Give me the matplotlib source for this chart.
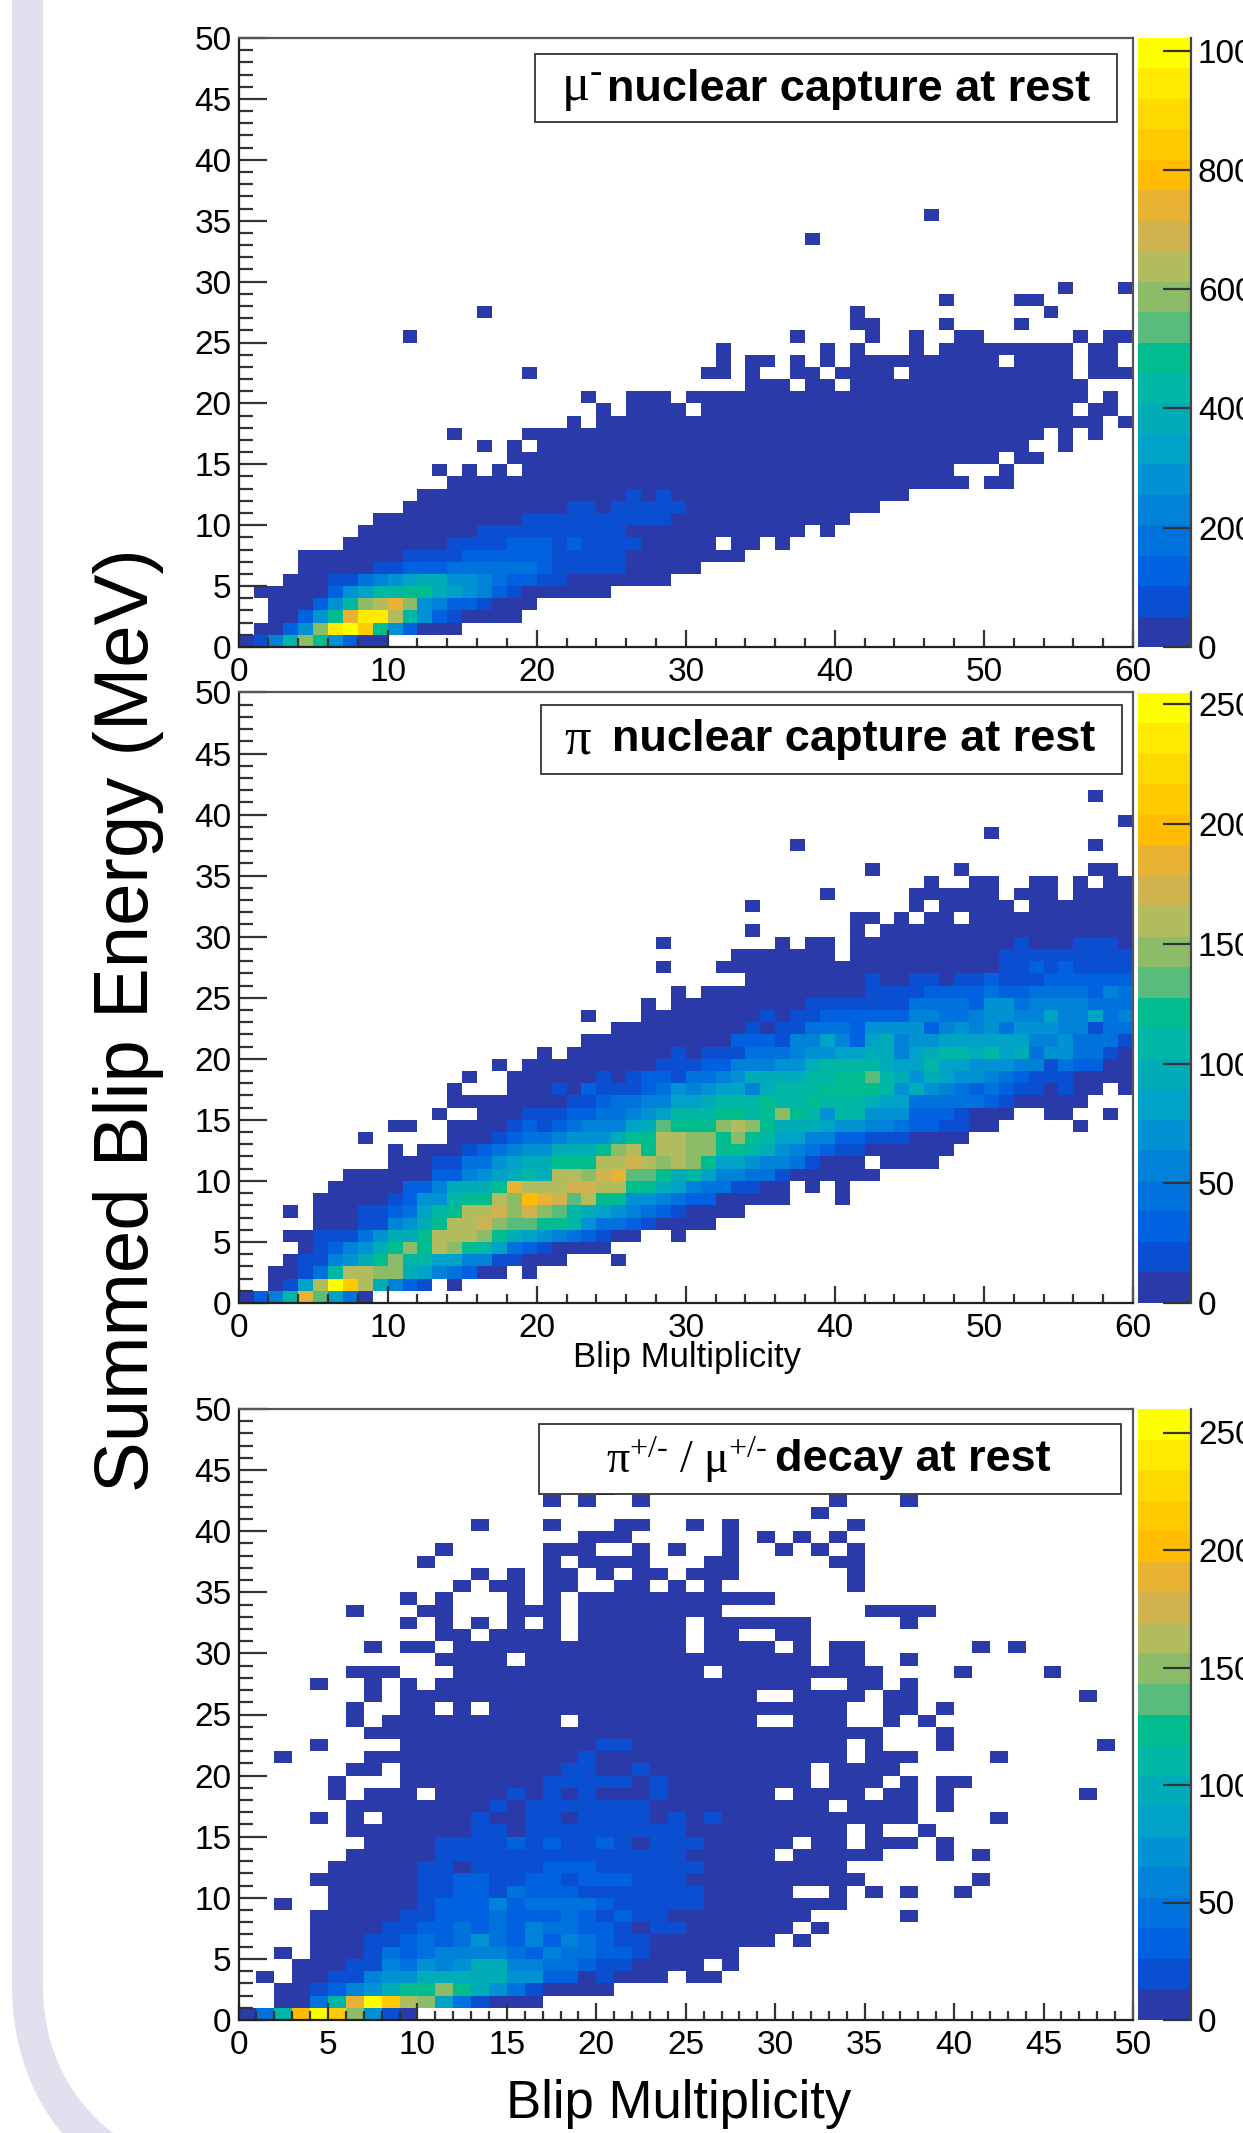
# -*- coding: utf-8 -*-
import numpy as np
import matplotlib
matplotlib.use("Agg")
import matplotlib.pyplot as plt
from matplotlib.colors import ListedColormap, BoundaryNorm
from matplotlib.patches import PathPatch, Rectangle
from matplotlib.path import Path
from matplotlib.ticker import MultipleLocator

plt.rcParams['font.family'] = ['Liberation Sans', 'DejaVu Sans']
plt.rcParams['mathtext.fontset'] = 'custom'
plt.rcParams['mathtext.rm'] = 'Liberation Serif'
plt.rcParams['mathtext.it'] = 'Liberation Serif:italic'
plt.rcParams['mathtext.bf'] = 'Liberation Serif:bold'

W, H = 1243, 2133

# palette levels, bottom to top of the colour bar
level_colors = ['#2a3aa8', '#0a4fd2', '#0062e0', '#0072de', '#0082d8',
                '#0092d2', '#00a2c8', '#00acb8', '#00b6a4', '#00bc8e',
                '#5abc7c', '#8cbc68', '#b2bc5e', '#d0b24e', '#e8b232',
                '#ffbc00', '#ffca00', '#ffda00', '#ffea00', '#ffff00']

# one string per energy bin (row 0 = 0-1 MeV), one level per multiplicity bin:
# "a-b" bins a..b at level 0, "a-b=L" at level L, "a:seq" levels from bin a on
mu_rows = [
    "0:0148B95200",
    "1-14 3:25BIJG952",
    "2-18 4:259EIIC8521",
    "2-19 5:258BCEB54221",
    "1-24 6:2568899765421",
    "3-28 6:1134567755432211",
    "4-30 9:11222333333211111",
    "4-33 11-14=1 15-20=2 21-25=1",
    "7-31 33-34 36 14-17=1 18-20=2 21=1 22=2 23-26=1",
    "8-37 39 16-25=1",
    "9-40 19-28=1",
    "11-42 22-23=1 25-29=1",
    "12-44 26=1 28=1",
    "14-48 50-51",
    "13 15 17 19-47 51",
    "18-50 52-53",
    "16 18 20-52 55",
    "14 19-53 55 57",
    "22 24-57 59",
    "24 26-29 31-55 57-58",
    "23 26-28 30-56 58",
    "34-36 38-39 41-56",
    "19 31-32 34 37-38 40-43 45-55 57-59",
    "32 34-35 37 39 41-50 52-55 57-58",
    "32 39 41 45 47-55 57-58",
    "11 37 42 45 48-49 56 58-59",
    "41-42 47 52",
    "16 41 54",
    "47 52-53",
    "55 59",
    "", "", "",
    "38",
    "",
    "46",
]

pi_rows = [
    "0:0248EA630",
    "2-12 14 3:16CJGC7421",
    "2-17 19 4:138CCBB76432",
    "3-21 25 4:114579B88664411",
    "4-24 5:124579B9CB986321",
    "3-26 29 5:11135779CCCB97654321",
    "5-31 8:114579CCDBAA99853321",
    "3 5-33 8:1123689CCDBDBA87654321",
    "5-36 40 10:1255899CBFEDAC99554322",
    "6-36 38 40 11:2247779ECCCDDCC997643311",
    "7-42 13:22456787CCBDEAA978644331",
    "10-41 43-46 13:11335677999CCDCBCB96654431",
    "10 12-47 15:123455777" "9BC9CCBB" "9987543211",
    "8 14-48 17:1233455579" "9CCBB9B986" "64422111",
    "10-11 14-50 56 18:12123444" "67A999BCB9777" "6554432211",
    "13 16-51 54-55 58 19:1112233456888998" "9B985885552221",
    "14-56 22:1123344667888" "98898887663333321",
    "14 18-57 59 21:10211123" "54566478" "88999985" "75432321" "1010",
    "15 18-59 24:10122133" "45777788" "99A87576" "55432111",
    "17 19-59 28:11122444" "55788887" "66866555" "441322",
    "20 22-59 29:10111333" "45566774" "67887867" "355331",
    "23-59 33:22214464" "26745566" "66664453" "331",
    "25-59 34:10113332" "55552454" "53555441" "33",
    "23 27-59 35:10112222" "22443345" "54464463" "4",
    "27 29-59 38:1111111" "3333" "255" "3" "4444" "333",
    "29 31-59 42:11112222" "322" "3333" "243",
    "34-59 42:100110112111222222",
    "28 32-59 51:112121111",
    "33-39 41-59 51-59=1",
    "28 36 38-39 41-59 52=1 56-58=1",
    "34 41 43-59",
    "41-42 44 46-47 49-59",
    "34 45 47-51 53-59",
    "39 45-50 52-54 56-59",
    "46 49-50 53-54 56 58-59",
    "42 48 57-58",
    "",
    "37 57",
    "50",
    "59",
    "",
    "57",
]

decay_rows = [
    "0:038FJGB510",
    "2-16 4:38EJGCB631",
    "2-20 4:1245799B97531",
    "1 3-23 25-26 5:1145577777552201",
    "3-25 27 6:1143545774433211",
    "2 4-27 7:1323444432433221",
    "4-29 31 7:1123235324243211",
    "4-30 32 8:11223232433221011",
    "4-31 37 9:112223222321211",
    "2 5-33 10:1222423333211111",
    "5-30 33 35 37 40 10:1122132221111111",
    "4-34 41 10:112211221222111",
    "5-33 10:1101111222111111",
    "6-29 31-35 39 41 11-24=1",
    "7-30 32-33 35-37 39 11-14=1 15=2 16=1 17=2 18-19=1 20=2 21=1 23-25=1",
    "6-33 35 38 13-14=1 16-24=1",
    "4 6 8-37 42 13=1 16-17=1 19-22=1 24=1 26=1",
    "6-32 34-37 39 14=1 16-22=1",
    "5 7-9 11-29 31-34 36-37 39 47 15=1 17=1 19=1 23=1",
    "5 9-31 33-35 37 39-40 17-21=1 23=1",
    "6-7 9-31 33-36 18-19=1 22=1",
    "2 7-33 35-37 42 19=1",
    "4 9-33 35 39 48 20-21=1",
    "7-35 39",
    "6 8-17 19-28 31-33 36 38",
    "6 9-10 12 14-33 36-37 39",
    "7 9-28 31-34 36-37 47",
    "4 7 9 11-31 34-35 37",
    "6-8 12-25 27-35 40 45",
    "11-14 16-31 33-34 37",
    "7 9-10 12-24 26-29 31 33-34 41 43",
    "11-12 14-17 19-24 26-27 30-31",
    "9 11 13 15 17 19-24 26-31 37",
    "6 10-11 15-17 19-26 35-38",
    "9 11 15 17 19-29",
    "12 14-15 17-18 21-22 24 26 34",
    "13 15 17-18 20 22-23 25-27 34",
    "10 17 19-22 26-27 33-34",
    "11 17-19 22 24 27 30 32 34",
    "19-21 27 29 31 33",
    "13 17 21-22 25 27 34",
    "32",
    "17 19 22 33 37",
    "20",
]

x_max = [60, 60, 50]
y_max = 50
z_max = [1021, 255, 260]
z_ticks = [[0, 200, 400, 600, 800, 1000],
           [0, 50, 100, 150, 200, 250],
           [0, 50, 100, 150, 200, 250]]
x_major = [10, 10, 5]
x_minor = [2, 2, 1]

# panel edges in pixels: top, bottom
panel_top = [38, 692.5, 1409]
panel_bot = [647, 1303, 2020]
ax_left, ax_right = 238.6, 1133
cb_left, cb_right = 1138, 1191

box_edges = [(535, 54, 1117, 122), (541, 704.5, 1122, 774), (539, 1424, 1121.5, 1493.5)]
box_serif = [r"$\mathrm{\mu}^{\mathrm{‐}}$", r"$\mathrm{\pi}$",
             r"$\mathrm{\pi}^{\mathrm{+/‐}}\ /\ \mathrm{\mu}^{\mathrm{+/‐}}$"]
box_serif_x = [561, 564, 606]
box_serif_fs = [38, 38, 33]
box_bold = ["nuclear capture at rest", "nuclear capture at rest", "decay at rest"]
box_bold_x = [607, 612.5, 775.5]
box_text_y = [89, 740, 1460]

LEVELS = "0123456789ABCDEFGHIJ"


def decode(rows, nx, zmax):
    z = np.full((y_max, nx), np.nan)
    for k, row in enumerate(rows):
        for tok in row.split():
            if ":" in tok:
                a, seq = tok.split(":")
                for n, ch in enumerate(seq):
                    z[k, int(a) + n] = (LEVELS.index(ch) + 0.5) * zmax / 20
            else:
                lev = 0
                if "=" in tok:
                    tok, lev = tok.split("=")
                    lev = int(lev)
                a, _, b = tok.partition("-")
                b = b or a
                z[k, int(a):int(b) + 1] = (lev + 0.5) * zmax / 20
    return z


def px_axes(fig, left, top, right, bot):
    return fig.add_axes([left / W, 1 - bot / H, (right - left) / W, (bot - top) / H])


fig = plt.figure(figsize=(W / 100, H / 100), dpi=100, facecolor='white')

# lavender band behind everything
bg = fig.add_axes([0, 0, 1, 1], zorder=-1)
bg.set_xlim(0, W)
bg.set_ylim(H, 0)
bg.axis('off')
band = Path([(12, 0), (12, 1985), (12, 2050), (34, 2100), (62, 2133),
             (113, 2133), (70, 2100), (43, 2050), (43, 1985), (43, 0), (12, 0)],
            [Path.MOVETO, Path.LINETO, Path.CURVE4, Path.CURVE4, Path.CURVE4,
             Path.LINETO, Path.CURVE4, Path.CURVE4, Path.CURVE4, Path.LINETO, Path.CLOSEPOLY])
bg.add_patch(PathPatch(band, facecolor='#e3dfee', edgecolor='none'))

cmap = ListedColormap(level_colors)
cmap.set_bad('white')
tick_fs = 24

for rows, nx, zmax, zt, xmaj, xmin, top, bot in zip(
        [mu_rows, pi_rows, decay_rows], x_max, z_max, z_ticks, x_major, x_minor, panel_top, panel_bot):
    ax = px_axes(fig, ax_left, top, ax_right, bot)
    z = decode(rows, nx, zmax)
    norm = BoundaryNorm(np.linspace(0, zmax, 21), 20)
    mesh = ax.pcolormesh(np.arange(nx + 1), np.arange(y_max + 1), np.ma.masked_invalid(z),
                         cmap=cmap, norm=norm, antialiased=False, linewidth=0)
    ax.set_xlim(0, nx)
    ax.set_ylim(0, y_max)
    ax.xaxis.set_major_locator(MultipleLocator(xmaj))
    ax.xaxis.set_minor_locator(MultipleLocator(xmin))
    ax.yaxis.set_major_locator(MultipleLocator(5))
    ax.yaxis.set_minor_locator(MultipleLocator(1))
    ax.tick_params(axis='x', which='major', direction='in', length=12.5, width=1.6, color='#333333',
                   labelsize=tick_fs, pad=7)
    ax.tick_params(axis='x', which='minor', direction='in', length=6.2, width=1.6, color='#333333')
    ax.tick_params(axis='y', which='major', direction='in', length=20, width=1.6, color='#333333',
                   labelsize=tick_fs, pad=5)
    ax.tick_params(axis='y', which='minor', direction='in', length=10, width=1.6, color='#333333')
    for side, col in [('left', '#222222'), ('bottom', '#222222'), ('top', '#555555'), ('right', '#555555')]:
        ax.spines[side].set_color(col)
        ax.spines[side].set_linewidth(1.6)

    cax = px_axes(fig, cb_left, top, cb_right, bot)
    cb = fig.colorbar(mesh, cax=cax, ticks=zt, spacing='proportional')
    cb.minorticks_off()
    cb.ax.tick_params(direction='in', length=20, width=1.6, color='#333333', labelsize=tick_fs, pad=5)
    cb.outline.set_visible(False)
    cb.ax.spines['right'].set_visible(True)
    cb.ax.spines['right'].set_color('#444444')
    cb.ax.spines['right'].set_linewidth(1.6)

# boxes and labels on top, pixel coordinates
over = fig.add_axes([0, 0, 1, 1], zorder=10)
over.patch.set_alpha(0)
over.set_xlim(0, W)
over.set_ylim(H, 0)
over.axis('off')
for (x0, y0, x1, y1), serif, sx, sfs, bold, bx, ty in zip(box_edges, box_serif, box_serif_x, box_serif_fs,
                                                         box_bold, box_bold_x, box_text_y):
    over.add_patch(Rectangle((x0, y0), x1 - x0, y1 - y0, facecolor='white', edgecolor='#222222', linewidth=1.2))
    over.text(sx, ty, serif, fontsize=sfs, ha='left', va='center')
    over.text(bx, ty, bold, fontsize=32.5, fontweight='bold', ha='left', va='center')

over.text(129, 1020, "Summed Blip Energy (MeV)", fontsize=54.8, rotation=90, ha='center', va='center')
over.text(687, 1357, "Blip Multiplicity", fontsize=25, ha='center', va='center')
over.text(679, 2104, "Blip Multiplicity", fontsize=38, ha='center', va='center')

fig.savefig("out.png", dpi=100)
